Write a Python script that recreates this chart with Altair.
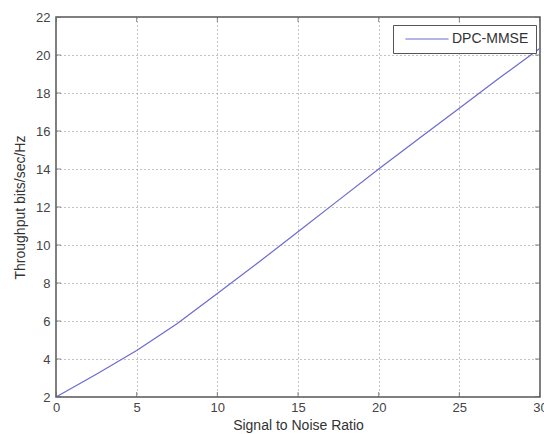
import altair as alt
import pandas as pd

snr = [0, 2.5, 5, 7.5, 10, 12.5, 15, 17.5, 20, 22.5, 25, 27.5, 30]
throughput = [2.0, 3.2, 4.45, 5.85, 7.45, 9.05, 10.7, 12.35, 14.0, 15.6, 17.2, 18.8, 20.35]
series = ["DPC-MMSE"] * len(snr)

x_ticks = [0, 5, 10, 15, 20, 25, 30]
y_ticks = [2, 4, 6, 8, 10, 12, 14, 16, 18, 20, 22]

df = pd.DataFrame({"snr": snr, "thr": throughput, "series": series})
dfx = pd.DataFrame({"v": x_ticks})
dfy = pd.DataFrame({"v": y_ticks})

FONT = "Liberation Sans"
AX = "#555555"

xscale = alt.Scale(domain=[0, 30], nice=False, zero=False)
yscale = alt.Scale(domain=[2, 22], nice=False, zero=False)

xaxis = alt.Axis(values=x_ticks, labelPadding=4, title="Signal to Noise Ratio", titlePadding=4)
yaxis = alt.Axis(values=y_ticks, labelPadding=6, title="Throughput bits/sec/Hz", titlePadding=8)

line = alt.Chart(df).mark_line(strokeWidth=1.2).encode(
    x=alt.X("snr:Q", scale=xscale, axis=xaxis),
    y=alt.Y("thr:Q", scale=yscale, axis=yaxis),
    color=alt.Color("series:N", scale=alt.Scale(range=["#6b6bd0"]),
                    legend=alt.Legend(title=None, orient="none", legendX=337, legendY=8,
                                      symbolType="M-5.4,0H5.4", symbolSize=64,
                                      symbolStrokeWidth=1.2, symbolOffset=20,
                                      labelOffset=18, labelFont=FONT, labelFontSize=14,
                                      labelColor="#333333", strokeColor="#555555",
                                      fillColor="white", padding=7, cornerRadius=0)),
)

tick_common = dict(color=AX, clip=True, thickness=1, size=10)
bottom = alt.Chart(dfx).mark_tick(orient="vertical", **tick_common).encode(
    x=alt.X("v:Q", scale=xscale, axis=xaxis), y=alt.YDatum(2, axis=yaxis))
top = alt.Chart(dfx).mark_tick(orient="vertical", **tick_common).encode(
    x=alt.X("v:Q", scale=xscale, axis=xaxis), y=alt.YDatum(22, axis=yaxis))
left = alt.Chart(dfy).mark_tick(orient="horizontal", **tick_common).encode(
    y=alt.Y("v:Q", scale=yscale, axis=yaxis), x=alt.XDatum(0, axis=xaxis))
right = alt.Chart(dfy).mark_tick(orient="horizontal", **tick_common).encode(
    y=alt.Y("v:Q", scale=yscale, axis=yaxis), x=alt.XDatum(30, axis=xaxis))

chart = alt.layer(line, bottom, top, left, right).properties(
    width=484, height=380,
    autosize=alt.AutoSizeParams(type="none"),
    padding={"left": 56, "top": 17, "right": 4, "bottom": 37},
    background="white",
).configure_view(stroke=AX, strokeWidth=1.5).configure_axis(
    grid=True, gridDash=[1, 3], gridColor="#888888", gridWidth=1,
    domain=False, ticks=False, labelFlush=False, labelOverlap=False,
    labelFont=FONT, labelFontSize=13, labelColor="#444444",
    titleFont=FONT, titleFontSize=14, titleFontWeight="normal", titleColor="#333333",
)

chart.save("out.html", embed_options={"renderer": "svg", "actions": False})
